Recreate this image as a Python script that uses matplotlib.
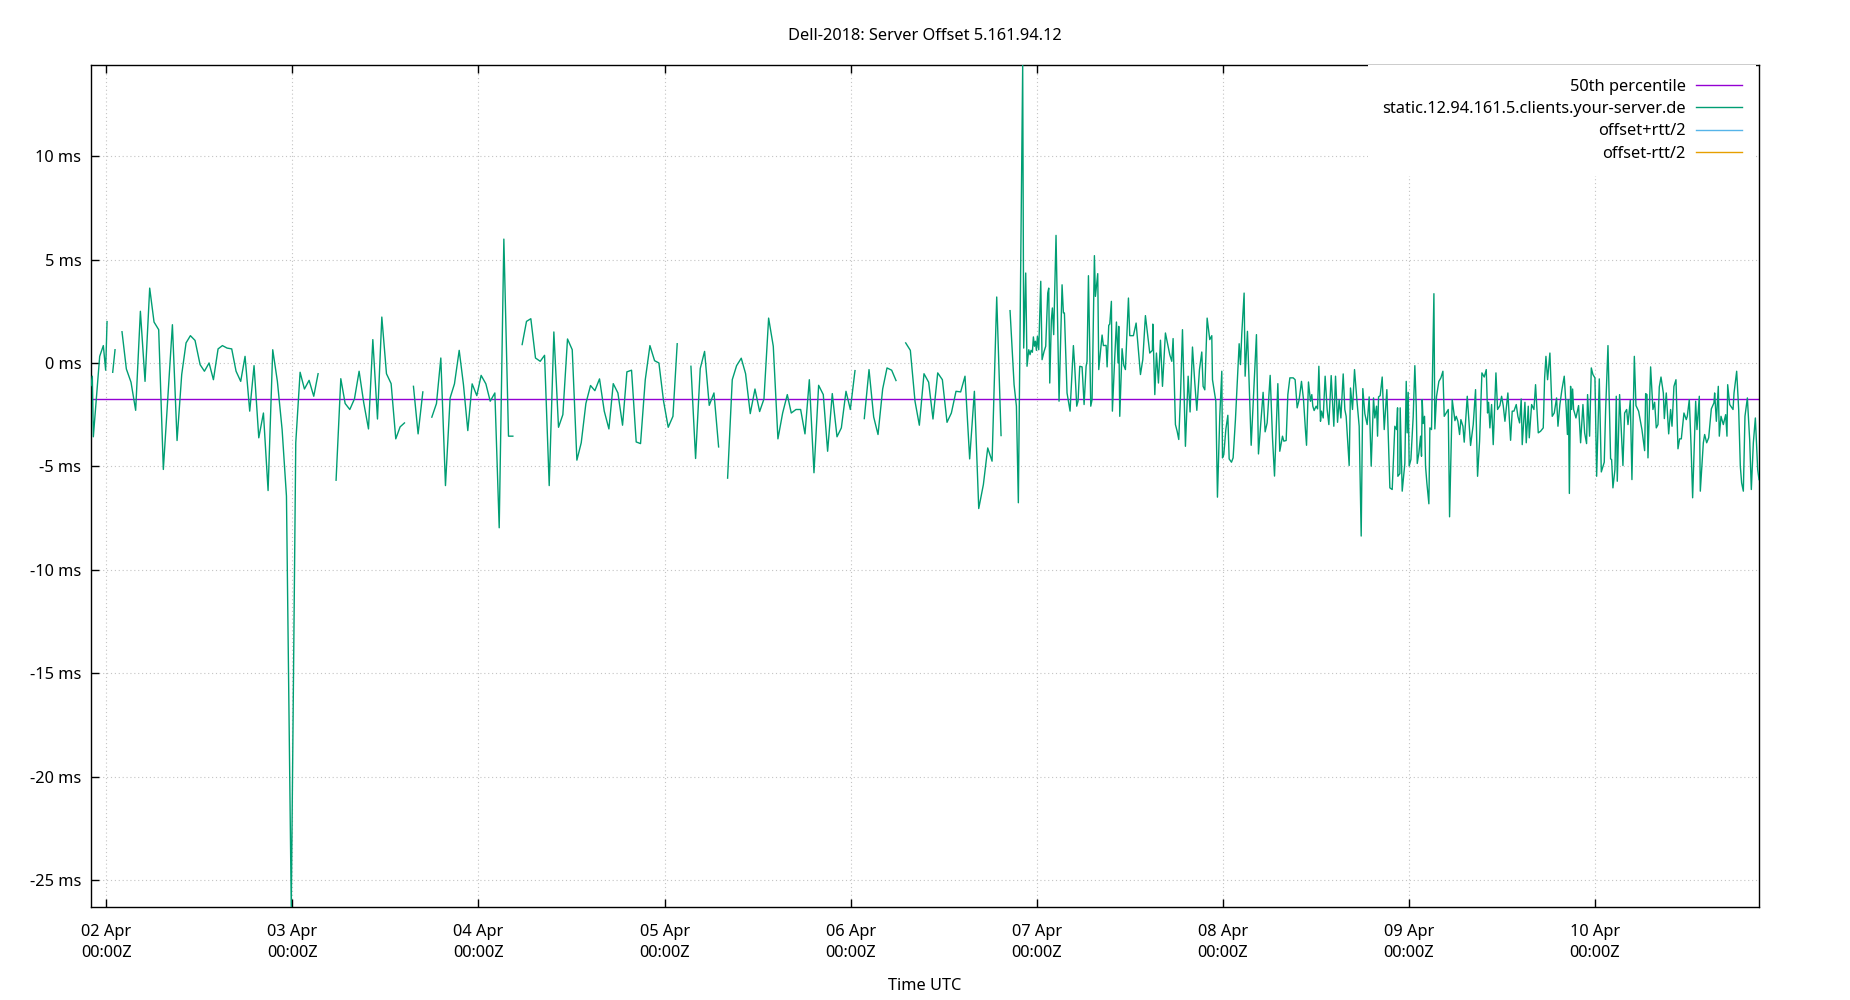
import numpy as np
import matplotlib
matplotlib.use("Agg")
import matplotlib.pyplot as plt
import matplotlib.dates as mdates
from matplotlib.ticker import FuncFormatter
from datetime import datetime, timedelta

plt.rcParams['font.family'] = ['Noto Sans', 'DejaVu Sans']

# ---------------- data (hours since 02 Apr 00:00Z, offset in ms) ----------------
title = "Dell-2018: Server Offset 5.161.94.12"
base_time = datetime(2025, 4, 2)
x_limits_h = (-1.98, 213.16)
y_limits_ms = (-26.31, 14.41)
y_ticks_ms = [-25, -20, -15, -10, -5, 0, 5, 10]
day_ticks = [0, 24, 48, 72, 96, 120, 144, 168, 192]
median_ms = -1.74
legend_labels = ["50th percentile", "static.12.94.161.5.clients.your-server.de",
                 "offset+rtt/2", "offset-rtt/2"]
colors = ["#9400d3", "#009e73", "#56b4e9", "#e69f00"]

seg_01 = [(-1.98, -1.09), (-1.81, -0.64), (-1.68, -3.57), (-0.86, 0.32), (-0.39, 0.84),
          (-0.09, -0.35), (0.09, 2.0)]
seg_02 = [(0.82, -0.45), (1.12, 0.64)]
seg_03 = [(2.02, 1.51), (2.58, -0.29), (3.18, -0.93), (3.78, -2.29), (4.39, 2.50), (4.99, -0.89),
          (5.59, 3.62), (6.15, 1.98), (6.75, 1.61), (7.35, -5.15), (8.52, 1.85), (9.12, -3.75),
          (9.72, -0.56), (10.28, 0.97), (10.84, 1.32), (11.44, 1.09), (12.09, -0.08), (12.65, -0.40),
          (13.25, 0.0), (13.81, -0.81), (14.41, 0.68), (14.97, 0.84), (15.57, 0.72), (16.17, 0.68),
          (16.73, -0.40), (17.33, -0.89), (17.89, 0.32), (18.49, -2.33), (19.05, -0.13), (19.66, -3.62),
          (20.26, -2.42), (20.86, -6.17), (21.46, 0.64), (22.06, -0.89), (22.67, -3.22), (23.23, -6.44),
          (23.85, -26.31), (24.43, -3.86), (24.99, -0.45), (25.55, -1.26), (26.15, -0.84), (26.75, -1.61),
          (27.31, -0.52)]
seg_04 = [(29.63, -5.67), (30.24, -0.76), (30.80, -1.96), (31.40, -2.25), (32.00, -1.74), (32.60, -0.40),
          (33.20, -1.93), (33.81, -3.19), (34.37, 1.13), (34.97, -2.71), (35.53, 2.22), (36.13, -0.52),
          (36.73, -1.0), (37.33, -3.67), (37.89, -3.09), (38.45, -2.90)]
seg_05 = [(39.61, -1.13), (40.21, -3.43), (40.82, -1.40)]
seg_06 = [(41.98, -2.62), (42.58, -1.96), (43.14, 0.24), (43.74, -5.93), (44.34, -1.69), (44.90, -1.01),
          (45.51, 0.61), (46.06, -1.05), (46.62, -3.27), (47.18, -1.01), (47.78, -1.58), (48.34, -0.60),
          (48.95, -1.01), (49.51, -1.85), (50.11, -1.45), (50.67, -7.97), (51.27, 5.99), (51.87, -3.54),
          (52.43, -3.54)]
seg_07 = [(53.63, 0.89), (54.19, 2.01), (54.75, 2.14), (55.35, 0.24), (55.96, 0.08), (56.52, 0.37),
          (57.12, -5.93), (57.72, 1.50), (58.32, -3.11), (58.88, -2.50), (59.48, 1.16), (60.09, 0.64),
          (60.69, -4.70), (61.25, -3.86), (61.85, -1.96), (62.45, -1.09), (63.01, -1.34), (63.61, -0.77),
          (64.22, -2.33), (64.82, -3.19), (65.38, -1.0), (65.98, -1.45), (66.58, -3.01), (67.14, -0.43),
          (67.74, -0.35), (68.34, -3.82), (68.90, -3.90), (69.51, -0.81), (70.11, 0.84), (70.71, 0.11),
          (71.27, 0.0), (71.87, -1.85), (72.47, -3.11), (73.08, -2.58), (73.63, 0.93)]
seg_08 = [(75.40, -0.16), (76.00, -4.62), (76.60, -0.27), (77.16, 0.56), (77.76, -2.05), (78.37, -1.45),
          (78.97, -4.06)]
seg_09 = [(80.13, -5.57), (80.73, -0.81), (81.29, -0.13), (81.89, 0.23), (82.45, -0.52), (83.05, -2.45),
          (83.66, -1.26), (84.26, -2.35), (84.82, -1.74), (85.42, 2.17), (86.02, 0.81), (86.62, -3.67),
          (87.23, -2.42), (87.83, -1.53), (88.34, -2.42), (88.95, -2.25), (89.55, -2.25), (90.11, -3.43),
          (90.67, -0.81), (91.27, -5.31), (91.87, -1.08), (92.47, -1.53), (93.03, -4.27), (93.63, -1.48),
          (94.24, -3.57), (94.80, -3.14), (95.40, -1.37), (95.96, -2.25), (96.56, -0.37)]
seg_10 = [(97.76, -2.69), (98.37, -0.32), (98.97, -2.61), (99.53, -3.46), (100.13, -1.26), (100.69, -0.24),
          (101.29, -0.35), (101.85, -0.85)]
seg_11 = [(103.10, 0.97), (103.70, 0.61), (104.30, -1.85), (104.86, -3.01), (105.46, -0.52), (106.06, -0.93),
          (106.62, -2.71), (107.23, -0.48), (107.83, -0.81), (108.43, -2.87), (108.99, -2.42), (109.59, -1.37),
          (110.19, -1.40), (110.75, -0.64), (111.35, -4.64), (111.96, -1.37), (112.52, -7.04), (113.12, -5.88),
          (113.68, -4.11), (114.24, -4.75), (114.84, 3.19), (115.40, -3.51)]
seg_12 = [(116.56, 2.53), (117.08, -1.05), (117.38, -2.09), (117.63, -6.76), (118.19, 14.41), (118.32, 0.72),
          (118.58, 4.35), (118.75, -0.16), (118.97, 0.64), (119.14, 0.40), (119.27, 0.61), (119.44, 0.52),
          (119.57, 1.26), (119.70, 0.81), (119.83, 1.05), (119.96, 0.61), (120.09, 1.29), (120.26, 0.64),
          (120.52, 3.95), (120.69, 0.16), (120.95, 0.56), (121.16, 0.81), (121.42, 3.38), (121.55, 3.62),
          (121.68, -0.97), (121.89, 2.09), (122.02, 2.66), (122.19, 1.37), (122.49, 6.17), (122.88, -1.85),
          (123.27, 3.78), (123.44, 2.42), (123.57, 2.42), (123.91, -1.45), (124.30, -2.33), (124.73, 0.84),
          (124.90, -0.16), (125.16, -2.09), (125.33, -1.85), (125.55, -0.16), (125.85, -0.19), (126.11, -2.01),
          (126.37, -0.16), (126.49, 0.08), (126.67, 4.22), (126.97, -2.09), (127.14, -1.77), (127.31, 2.25),
          (127.44, 5.19), (127.57, 3.22), (127.87, 4.32), (128.00, -0.32), (128.43, 1.35), (128.60, 0.84),
          (128.95, 0.85), (129.08, -0.19), (129.29, 1.82), (129.42, 1.88), (129.63, 2.98), (129.76, -2.33),
          (130.06, 0.24), (130.28, 1.98), (130.49, 0.0), (130.58, 1.77), (130.71, -2.58), (131.01, 0.69),
          (131.23, -0.11), (131.44, -0.32), (131.83, 3.14), (132.00, 1.32), (132.47, 1.32), (132.82, 1.93),
          (133.38, -0.56), (133.68, 0.16), (134.02, 2.29), (134.58, 0.48), (134.92, 0.61), (134.97, 1.88),
          (135.23, -1.53), (135.44, 0.48), (135.70, -0.97), (135.96, 1.10)]
seg_13 = [(136.22, -1.13), (136.60, 1.45), (137.16, 0.40), (137.42, 0.08), (137.59, 1.18), (137.89, -2.98),
          (138.11, -3.30), (138.32, -3.70), (138.54, -1.61), (138.80, 1.61), (139.18, -4.03), (139.53, -0.64),
          (139.78, -2.37), (140.09, 0.77), (140.39, -0.97), (140.65, -2.29), (140.99, -0.32), (141.29, 0.53),
          (141.46, -1.13), (141.68, -1.30), (141.98, 2.17), (142.32, 1.13), (142.58, 1.32), (142.67, -0.81),
          (143.10, -1.85), (143.31, -6.49), (143.61, -2.58), (143.87, -0.40), (143.96, -4.59), (144.13, -4.43),
          (144.39, -3.22), (144.65, -2.53), (144.82, -4.64), (145.12, -4.80), (145.33, -4.59), (145.63, -2.74),
          (146.11, 0.93), (146.28, -0.08), (146.45, 1.42), (146.75, 3.38), (146.88, -0.64), (147.18, 1.53),
          (147.66, -3.98), (148.34, 1.37), (148.60, -4.40), (149.20, -1.42), (149.46, -3.33), (149.72, -2.90),
          (150.11, -0.60), (150.41, -3.62), (150.67, -5.47), (151.10, -1.00), (151.35, -4.27), (151.70, -3.54),
          (151.87, -3.78), (152.17, -3.75), (152.39, -1.53), (152.65, -0.72), (153.08, -0.72), (153.33, -0.81),
          (153.59, -2.17), (153.85, -1.77), (154.15, -0.89), (154.41, -1.77), (154.67, -3.30), (154.80, -3.98),
          (155.05, -0.92), (155.31, -1.85), (155.48, -1.53), (155.61, -2.09), (155.78, -2.30), (156.04, -2.09),
          (156.22, -2.22), (156.39, -0.16), (156.60, -2.82), (156.73, -2.33), (156.95, -2.66), (157.20, -0.64),
          (157.46, -2.25), (157.68, -2.98), (157.98, -0.61), (158.32, -3.06), (158.54, -0.64), (158.80, -2.87),
          (159.01, -1.77), (159.23, -2.66), (159.53, -0.53), (159.74, -2.25), (159.91, -2.58), (160.30, -4.96),
          (160.47, -1.21), (160.73, -2.25), (160.99, -0.32), (161.29, -1.77), (161.59, -3.06), (161.85, -8.37),
          (162.06, -1.24), (162.32, -2.45), (162.62, -2.98), (162.88, -1.64)]
seg_14 = [(163.14, -4.99), (163.44, -1.69), (163.61, -2.66), (163.83, -2.09), (163.96, -3.54), (164.09, -1.64),
          (164.30, -1.58), (164.56, -0.68), (164.82, -3.22), (165.16, -1.29), (165.55, -6.04), (165.85, -6.12),
          (166.19, -3.06), (166.41, -3.22), (166.54, -2.17), (166.58, -5.48), (166.84, -5.35), (166.88, -2.17),
          (167.14, -6.20), (167.48, -4.86), (167.66, -0.89), (167.78, -3.38), (167.91, -1.42), (168.04, -4.99),
          (168.26, -4.67), (168.56, -2.58), (168.77, -0.13), (168.95, -2.09), (169.08, -4.86), (169.29, -4.35),
          (169.51, -3.54), (169.63, -4.51), (169.72, -1.77), (169.85, -2.93), (170.02, -2.58), (170.15, -4.99),
          (170.32, -5.80), (170.58, -6.81), (170.71, -3.14), (170.92, -3.22), (171.23, 3.35), (171.35, -3.19),
          (171.57, -1.61), (171.87, -0.89), (172.13, -0.72), (172.39, -0.40), (172.56, -2.58), (173.08, -2.25),
          (173.25, -7.44), (173.59, -1.77), (173.94, -2.79), (174.11, -2.58), (174.32, -2.82), (174.54, -3.46),
          (174.71, -2.74), (174.97, -3.06), (175.14, -3.83), (175.53, -1.61), (175.96, -3.99), (176.30, -2.98),
          (176.60, -1.29), (176.86, -5.48), (177.12, -3.78), (177.42, -0.48), (177.72, -0.68), (177.98, -0.32),
          (178.15, -2.42), (178.28, -1.90), (178.45, -3.14), (178.67, -2.01), (178.88, -3.95), (179.23, -0.48),
          (179.44, -2.25), (179.74, -2.06), (179.96, -1.61), (180.17, -2.06), (180.39, -2.82), (180.77, -1.45),
          (181.12, -3.74), (181.33, -2.33), (181.55, -2.33), (181.85, -2.01), (182.06, -2.58), (182.28, -2.90),
          (182.49, -1.74), (182.62, -3.95), (182.97, -1.90), (183.14, -3.86), (183.40, -2.09), (183.53, -3.62),
          (183.83, -2.01), (184.13, -2.25), (184.34, -1.05), (184.52, -2.25), (184.69, -3.38), (184.99, -3.30),
          (185.33, -3.14), (185.51, -0.72), (185.68, 0.32), (185.89, -0.81), (186.19, 0.48), (186.49, -2.58),
          (186.75, -2.42), (187.05, -1.69), (187.23, -3.06), (187.48, -2.01), (187.74, -1.29), (188.04, -0.64),
          (188.30, -2.25), (188.45, -3.46), (188.58, -1.77), (188.70, -6.31)]
seg_15 = [(188.86, -1.13), (188.99, -2.25), (189.12, -1.26), (189.25, -2.25), (189.55, -2.66), (189.89, -2.06),
          (190.15, -3.86), (190.45, -2.01), (190.67, -3.38), (190.92, -3.90), (191.05, -1.53), (191.31, -3.54),
          (191.53, -0.24), (191.74, -0.56), (192.00, -0.72), (192.22, -5.48), (192.56, -0.77), (192.82, -5.27),
          (193.20, -4.80), (193.38, -2.25), (193.68, 0.84), (194.02, -4.64), (194.15, -4.67), (194.32, -6.04),
          (194.58, -5.15), (194.75, -1.61), (194.88, -5.72), (195.18, -1.53), (195.61, -4.96), (195.83, -2.42),
          (196.09, -2.25), (196.26, -2.98), (196.56, -1.80), (196.77, -5.64), (197.08, 0.32), (197.29, -2.06),
          (197.63, -2.33), (198.06, -3.22), (198.41, -4.24), (198.54, -1.48), (198.71, -1.53), (198.84, -4.59),
          (199.18, -0.19), (199.48, -2.25), (199.70, -1.90), (199.91, -3.14), (200.13, -2.98), (200.30, -1.16),
          (200.52, -0.68), (200.82, -1.45), (200.95, -2.69), (201.20, -1.45), (201.33, -2.30), (201.51, -3.43),
          (201.76, -2.25), (201.94, -3.06), (202.19, -1.13), (202.45, -0.81), (202.71, -4.15), (202.92, -3.67),
          (203.14, -3.67), (203.48, -2.42), (203.78, -2.74), (203.91, -2.58), (204.17, -1.77), (204.39, -3.95),
          (204.60, -6.52), (204.99, -1.85), (205.16, -3.22), (205.46, -1.61), (205.59, -6.20), (205.98, -3.86),
          (206.15, -3.46), (206.41, -3.86), (206.67, -3.62), (207.01, -2.22), (207.35, -1.93), (207.44, -1.45),
          (207.66, -2.82), (207.91, -1.13), (208.04, -3.54), (208.26, -2.58), (208.56, -2.98), (208.86, -2.50),
          (209.03, -3.54), (209.12, -1.05), (209.38, -2.01), (209.81, -2.25), (209.94, -1.45), (210.28, -0.40),
          (210.54, -2.25), (210.75, -4.99), (210.92, -5.80), (211.14, -6.20), (211.35, -2.58), (211.66, -1.69),
          (211.96, -3.74), (212.17, -6.12), (212.43, -3.86), (212.69, -2.66), (212.99, -5.15), (213.16, -5.64)]

# segments that are separated by missing data (line breaks)
broken_segments = [seg_01, seg_02, seg_03, seg_04, seg_05, seg_06, seg_07, seg_08,
                   seg_09, seg_10, seg_11, seg_12 + seg_13 + seg_14 + seg_15]

# ---------------- build series ----------------
hours, offsets = [], []
for i, seg in enumerate(broken_segments):
    if i > 0:
        hours.append((hours[-1] + seg[0][0]) / 2.0)
        offsets.append(np.nan)
    for h, v in seg:
        hours.append(h)
        offsets.append(v)
times = [base_time + timedelta(hours=h) for h in hours]
offsets = np.array(offsets, dtype=float)

def to_time(h):
    return base_time + timedelta(hours=h)

# ---------------- figure ----------------
W, H, DPI = 1850, 1000, 100
fig = plt.figure(figsize=(W / DPI, H / DPI), dpi=DPI)
left, right, top, bottom = 91, 1759, 65, 907
ax = fig.add_axes([left / W, 1 - bottom / H, (right - left) / W, (bottom - top) / H])

FS = 11.8
x0, x1 = to_time(x_limits_h[0]), to_time(x_limits_h[1])

ax.plot([x0, x1], [median_ms, median_ms], color=colors[0], lw=1.0, label=legend_labels[0], zorder=2)
ax.plot(times, offsets, color=colors[1], lw=1.0, label=legend_labels[1], zorder=3)
ax.plot([], [], color=colors[2], lw=1.0, label=legend_labels[2])
ax.plot([], [], color=colors[3], lw=1.0, label=legend_labels[3])

ax.set_xlim(x0, x1)
ax.set_ylim(*y_limits_ms)

ax.set_yticks(y_ticks_ms)
ax.yaxis.set_major_formatter(FuncFormatter(lambda v, p: f"{v:g} ms"))
ax.set_xticks([to_time(h) for h in day_ticks])
ax.xaxis.set_major_formatter(mdates.DateFormatter("%d %b\n%H:%MZ"))

ax.tick_params(axis='x', direction='in', top=True, bottom=True, length=6, width=1.0,
               labelsize=FS, pad=12.5)
ax.tick_params(axis='y', direction='in', left=True, right=False, length=6, width=1.0,
               labelsize=FS, pad=7)
for lab in ax.get_xticklabels():
    lab.set_linespacing(1.42)

ax.grid(True, color='#c4c4c4', linestyle=(0, (1, 2.5)), linewidth=0.8)
for s in ax.spines.values():
    s.set_linewidth(1.0)
    s.set_color('black')

leg = ax.legend(loc='upper right', bbox_to_anchor=(1.0 - 3.5 / (right - left), 1.0), markerfirst=False,
                frameon=True, fancybox=False, framealpha=1.0, facecolor='white',
                edgecolor='none', fontsize=FS, handlelength=2.8, handletextpad=0.6,
                labelspacing=0.38, borderaxespad=0.0, borderpad=0.85)
leg.set_zorder(5)

fig.text((left + right) / 2 / W, 1 - 35.5 / H, title, ha='center', va='center', fontsize=FS)
fig.text((left + right) / 2 / W, 1 - 986 / H, "Time UTC", ha='center', va='center', fontsize=FS)

fig.savefig("out.png", dpi=DPI)
